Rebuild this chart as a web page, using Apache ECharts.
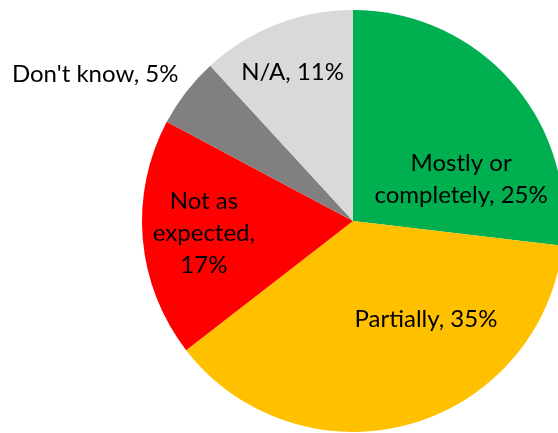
<!DOCTYPE html>
<html>
<head>
<meta charset="utf-8">
<script src="https://cdn.jsdelivr.net/npm/echarts@6/dist/echarts.min.js"></script>
<style>html,body{margin:0;padding:0;background:#fff;}#c{width:558px;height:433px;}</style>
</head>
<body>
<div id="c"></div>
<script>
var categories = ['Mostly or completely', 'Partially', 'Not as expected', "Don't know", 'N/A'];
var values = [25, 35, 17, 5, 11];
var labelTexts = ['Mostly or\ncompletely, 25%', 'Partially, 35%', 'Not as\nexpected,\n17%', "Don't know, 5%", 'N/A, 11%'];
var colors = ['#00B050', '#FFC000', '#FF0000', '#808080', '#D9D9D9'];
var labelShift = [[27, 30], [44, -6], [-41, 3], [-172, -80], [-21, -48]];

var chart = echarts.init(document.getElementById('c'), null, {renderer: 'canvas'});
chart.setOption({
  animation: false,
  backgroundColor: '#ffffff',
  series: [{
    type: 'pie',
    center: [353, 221],
    radius: [0, 211],
    startAngle: 90,
    clockwise: true,
    avoidLabelOverlap: false,
    label: {
      show: true,
      position: 'inside',
      color: '#000',
      fontFamily: 'Lato',
      fontSize: 24,
      lineHeight: 32,
      align: 'center',
      formatter: function (p) { return labelTexts[p.dataIndex]; }
    },
    labelLine: {show: false},
    labelLayout: function (p) {
      return {dx: labelShift[p.dataIndex][0], dy: labelShift[p.dataIndex][1]};
    },
    itemStyle: {borderWidth: 0},
    emphasis: {disabled: true},
    data: categories.map(function (c, i) {
      return {name: c, value: values[i], itemStyle: {color: colors[i]}};
    })
  }]
});
</script>
</body>
</html>
